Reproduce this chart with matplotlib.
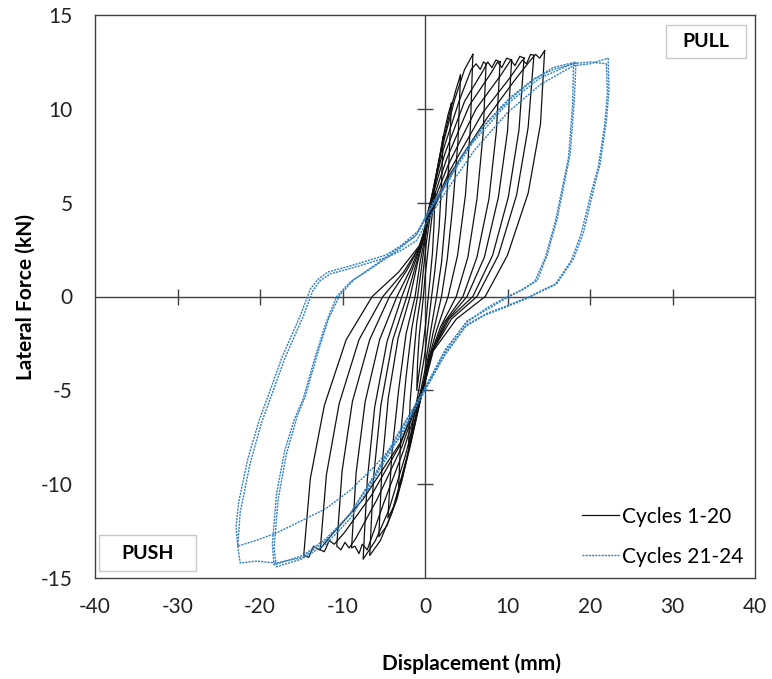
import matplotlib
matplotlib.use("Agg")
import matplotlib.pyplot as plt
from matplotlib.patches import Rectangle

plt.rcParams['font.family'] = ['Lato', 'DejaVu Sans']
plt.rcParams['axes.unicode_minus'] = False

# cycles 1-20 (black), traced loops: peak -> unload -> negative peak -> unload -> peak
black_x = [
    [1.2, 1.1, 0.9, 0.6, 0.4, 0.1, -0.3, -0.7, -1.0, -0.9, -0.7, -0.4, -0.2, 0.0, 0.4, 0.8, 1.2],
    [2.2, 2.0, 1.7, 1.2, 0.8, 0.4, 0.0, -0.6, -1.3, -2.0, -1.8, -1.4, -1.0, -0.5, -0.2, 0.2, 0.8, 1.5, 2.2],
    [3.2, 2.9, 2.5, 2.0, 1.4, 0.7, 0.2, 0.0, -1.1, -2.1, -2.8, -3.2, -2.9, -2.3, -1.6, -0.9, -0.4, 0.0, 0.3, 1.3, 2.2, 2.8, 3.2],
    [4.3, 4.0, 3.4, 2.7, 2.0, 1.0, 0.3, 0.0, -1.5, -2.8, -3.8, -4.5, -4.0, -3.2, -2.3, -1.2, -0.6, 0.0, 0.3, 1.7, 3.0, 3.8, 4.3],
    [5.8, 5.5, 4.9, 3.95, 2.8, 1.4, 0.4, 0.0, -1.8, -3.4, -4.6, -5.6, -5.2, -4.45, -3.25, -1.8, -0.9, -0.1, 0.3, 2.0, 3.6, 4.8, 5.8],
    [7.4, 7.05, 6.3, 5.2, 3.8, 1.9, 0.5, 0.0, -2.2, -4.0, -5.4, -6.7, -6.25, -5.35, -3.9, -2.2, -1.1, -0.2, 0.3, 2.2, 4.2,
     5.6, 6.2, 6.7, 7.1, 7.4],
    [9.1, 8.65, 7.75, 6.3, 4.6, 2.3, 0.6, 0.0, -2.4, -4.4, -6.0, -7.5, -7.0, -6.1, -4.6, -2.8, -1.4, -0.3, 0.3, 2.4, 4.8,
     7.0, 7.6, 8.1, 8.6, 9.1],
    [10.5, 10.0, 8.9, 7.2, 5.1, 2.6, 0.7, 0.0, -2.6, -5.0, -7.0, -7.6, -8.0, -8.5, -8.9, -8.35, -7.25, -5.5, -3.4, -1.7,
     -0.4, 0.3, 2.6, 5.4, 8.0, 8.8, 9.3, 9.9, 10.5],
    [12.0, 11.4, 10.1, 8.2, 5.8, 2.9, 0.8, 0.0, -2.8, -5.8, -8.4, -9.2, -9.7, -10.2, -10.7, -10.05, -8.8, -6.7, -4.3, -2.2,
     -0.5, 0.3, 2.8, 6.2, 9.2, 10.4, 10.9, 11.5, 12.0],
    [13.2, 12.5, 11.1, 8.9, 6.3, 3.2, 0.9, 0.0, -3.0, -6.5, -9.8, -11.0, -11.6, -12.2, -12.7, -11.95, -10.4, -8.0, -5.1,
     -2.6, -0.6, 0.3, 3.0, 7.0, 10.2, 11.8, 12.3, 12.8, 13.2],
    [14.5, 14.0, 12.5, 10.0, 7.3, 3.8, 1.0, 0.0, -3.0, -7.5, -11.5, -12.8, -13.5, -14.1, -14.7, -13.9, -12.2, -9.55, -6.4,
     -3.2, -0.7, 0.3, 3.0, 7.5, 11.0, 12.8, 13.4, 13.9, 14.5],
]
black_y = [
    [5.5, 3.9, 2.3, 0.9, 0.0, -1.4, -2.8, -4.0, -5.0, -3.5, -2.1, -0.9, 0.0, 1.0, 2.6, 4.1, 5.5],
    [8.5, 6.0, 3.6, 1.4, 0.0, -1.5, -3.0, -4.6, -6.3, -8.0, -5.6, -3.4, -1.4, 0.0, 1.4, 3.0, 4.8, 6.7, 8.5],
    [10.3, 7.2, 4.3, 1.8, 0.0, -1.8, -3.2, -3.9, -6.3, -8.4, -9.6, -10.2, -7.1, -4.3, -1.7, 0.0, 1.6, 3.0, 3.8, 6.3, 8.5, 9.7, 10.3],
    [11.8, 8.3, 5.0, 2.0, 0.0, -1.9, -3.4, -4.2, -7.3, -9.8, -11.2, -11.8, -8.3, -5.0, -2.0, 0.0, 1.8, 3.2, 4.1, 7.3, 9.8, 11.1, 11.8],
    [12.9, 9.0, 5.4, 2.2, 0.0, -1.8, -3.4, -4.4, -8.0, -10.8, -12.2, -12.8, -9.0, -5.4, -2.2, 0.0, 1.8, 3.2, 4.3, 7.8, 10.5, 12.1, 12.9],
    [12.4, 8.7, 5.2, 2.1, 0.0, -1.6, -3.3, -4.5, -8.6, -11.5, -13.0, -13.8, -9.7, -5.8, -2.3, 0.0, 1.7, 3.1, 4.4, 7.8, 10.5,
     12.1, 12.4, 12.1, 12.5, 12.4],
    [12.5, 8.8, 5.2, 2.1, 0.0, -1.4, -3.2, -4.6, -8.5, -11.4, -13.0, -14.0, -9.8, -5.9, -2.4, 0.0, 1.6, 3.0, 4.4, 7.6, 10.4,
     12.0, 12.5, 12.2, 12.6, 12.5],
    [12.6, 8.8, 5.3, 2.1, 0.0, -1.3, -3.1, -4.5, -8.2, -11.0, -13.5, -13.2, -13.7, -13.3, -13.4, -9.4, -5.6, -2.3, 0.0, 1.5,
     2.9, 4.3, 7.3, 10.2, 11.9, 12.5, 12.2, 12.7, 12.6],
    [12.7, 8.9, 5.3, 2.2, 0.0, -1.2, -3.0, -4.5, -8.0, -10.8, -12.9, -13.4, -13.1, -13.5, -13.3, -9.3, -5.6, -2.3, 0.0, 1.4,
     2.8, 4.2, 7.0, 10.0, 11.8, 12.6, 12.3, 12.8, 12.7],
    [12.85, 9.0, 5.4, 2.2, 0.0, -1.2, -2.9, -4.5, -7.9, -10.6, -12.6, -13.2, -13.0, -13.6, -13.5, -9.5, -5.7, -2.3, 0.0, 1.3,
     2.7, 4.1, 6.7, 9.8, 11.6, 12.6, 12.4, 12.9, 12.85],
    [13.1, 9.2, 5.5, 2.2, 0.0, -1.2, -2.9, -4.6, -7.8, -10.8, -12.8, -13.5, -13.3, -13.9, -13.8, -9.7, -5.8, -2.3, 0.0, 1.3,
     2.7, 4.0, 6.5, 9.5, 11.6, 12.6, 12.9, 12.7, 13.1],
]

# cycles 21-24 (blue dotted)
blue_x = [
    [18.3, 18.1, 17.6, 16.0, 14.8, 13.6, 11.8, 10.0, 7.5, 5.0, 2.5, 0.2, -3.0, -6.0, -9.1, -12.0, -14.8, -18.3,
     -18.5, -18.0, -17.0, -15.8, -14.8, -13.3, -12.0, -10.7, -9.0, -6.5, -3.5, -1.0, 0.6, 2.7, 4.2, 7.0, 10.0, 13.0, 15.5, 18.3],
    [18.0, 17.9, 17.4, 15.8, 14.6, 13.3, 11.5, 9.8, 7.5, 5.1, 2.3, 0.0, -3.0, -6.0, -9.0, -12.0, -15.0, -18.0,
     -18.3, -17.8, -16.8, -15.5, -14.5, -13.0, -11.7, -10.3, -8.6, -6.0, -3.2, -0.8, 0.8, 2.9, 4.6, 7.3, 10.3, 13.2, 15.6, 18.0],
    [22.2, 22.3, 22.0, 21.2, 20.6, 19.2, 18.0, 16.0, 14.5, 12.7, 9.9, 7.5, 5.1, 2.5, 0.2, -3.0, -6.0, -9.1, -12.0, -14.8, -18.0, -20.5, -22.4,
     -22.7, -22.4, -21.2, -19.8, -18.8, -17.0, -14.8, -13.6, -12.7, -11.5, -9.0, -6.7, -4.5, -2.7, -1.0, 0.5, 2.7, 6.0, 10.0, 14.0, 18.0, 20.0, 22.2],
    [22.0, 22.1, 21.8, 21.0, 20.3, 18.9, 17.7, 15.7, 14.2, 12.4, 9.6, 7.2, 4.9, 2.3, 0.0, -3.0, -6.0, -9.0, -12.0, -15.2, -18.0, -20.5, -22.7,
     -22.9, -22.6, -21.5, -20.1, -19.1, -17.3, -15.1, -13.9, -13.0, -11.8, -9.3, -7.0, -4.8, -2.9, -1.2, 0.3, 2.5, 5.8, 9.8, 13.8, 17.8, 20.0, 22.0],
]
blue_y = [
    [12.5, 10.5, 7.6, 4.1, 2.2, 0.85, 0.35, 0.0, -0.6, -1.4, -2.8, -4.7, -7.2, -9.5, -11.6, -12.9, -13.8, -14.3,
     -13.2, -10.5, -8.2, -6.5, -5.5, -3.2, -1.4, 0.0, 0.8, 1.5, 2.4, 3.3, 4.6, 6.0, 7.3, 9.0, 10.4, 11.5, 12.2, 12.5],
    [12.4, 10.3, 7.4, 4.0, 2.1, 0.8, 0.3, -0.1, -0.7, -1.3, -3.0, -4.9, -7.4, -9.6, -11.8, -13.2, -14.0, -14.4,
     -13.4, -10.8, -8.4, -6.4, -5.3, -3.0, -1.2, 0.1, 0.9, 1.7, 2.6, 3.5, 4.9, 6.3, 7.6, 9.2, 10.6, 11.6, 12.1, 12.4],
    [12.7, 11.0, 9.4, 7.0, 6.0, 3.4, 2.0, 0.7, 0.4, 0.0, -0.5, -0.9, -1.5, -3.0, -4.8, -7.1, -9.4, -11.6, -13.0, -13.9, -14.2, -14.1, -14.2,
     -13.3, -11.5, -8.9, -6.7, -5.5, -3.3, -1.1, 0.3, 0.85, 1.2, 1.5, 1.8, 2.1, 2.5, 3.0, 4.2, 5.7, 7.8, 9.8, 11.3, 12.3, 12.4, 12.7],
    [12.4, 10.8, 9.2, 6.9, 5.8, 3.3, 1.9, 0.6, 0.3, -0.1, -0.6, -1.0, -1.6, -3.2, -5.0, -7.5, -9.0, -10.3, -11.3, -12.0, -12.6, -13.0, -13.3,
     -12.3, -11.0, -8.7, -6.6, -5.4, -3.2, -1.0, 0.4, 0.9, 1.3, 1.6, 1.9, 2.2, 2.7, 3.2, 4.4, 6.0, 8.2, 10.2, 11.6, 12.4, 12.5, 12.4],
]

x_ticks = [-40, -30, -20, -10, 0, 10, 20, 30, 40]
y_ticks = [-15, -10, -5, 0, 5, 10, 15]
series_labels = ['Cycles 1-20', 'Cycles 21-24']

fig = plt.figure(figsize=(7.72, 6.79), dpi=100)
ax = fig.add_axes([95 / 772, 1 - 578 / 679, 660 / 772, 563 / 679])

black_handle = None
for xs, ys in zip(black_x, black_y):
    black_handle, = ax.plot(xs, ys, color='#111111', lw=0.9, zorder=3)
blue_handle = None
for xs, ys in zip(blue_x, blue_y):
    blue_handle, = ax.plot(xs, ys, color='#2f7fc0', lw=1.0, ls=(0, (1.5, 0.8)), zorder=4)

# axes crossing at the origin, with crossing tick marks
ax.axhline(0, color='#404040', lw=1.0, zorder=2)
ax.axvline(0, color='#404040', lw=1.0, zorder=2)
inner_x = [t for t in x_ticks if t not in (-40, 0, 40)]
inner_y = [t for t in y_ticks if t not in (-15, 0, 15)]
ax.plot(inner_x, [0] * len(inner_x), ls='none', marker='|', ms=12, mew=1.0, color='#404040', zorder=2)
ax.plot([0] * len(inner_y), inner_y, ls='none', marker='_', ms=12, mew=1.0, color='#404040', zorder=2)

ax.set_xlim(-40, 40)
ax.set_ylim(-15, 15)
ax.set_xticks(x_ticks)
ax.set_yticks(y_ticks)
ax.tick_params(length=0, labelsize=15, colors='#222222')
ax.tick_params(axis='x', pad=14)
ax.tick_params(axis='y', pad=16)
for s in ax.spines.values():
    s.set_color('#404040')
    s.set_linewidth(1.0)

ax.set_xlabel('Displacement (mm)', fontsize=15, fontweight='bold')
ax.xaxis.set_label_coords(0.571, -0.134)
ax.set_ylabel('Lateral Force (kN)', fontsize=15, fontweight='bold', labelpad=4)

ax.legend([black_handle, blue_handle], series_labels, loc='lower right', frameon=False,
          fontsize=15, handlelength=1.8, handletextpad=0.15, labelspacing=0.95,
          borderaxespad=0.15)

# PULL / PUSH label boxes
ax.add_patch(Rectangle((0.865, 0.924), 0.121, 0.058, transform=ax.transAxes,
                       facecolor='white', edgecolor='#c8c8c8', lw=1.0, zorder=6))
ax.text(0.9255, 0.953, 'PULL', transform=ax.transAxes, ha='center', va='center',
        fontsize=14, fontweight='bold', zorder=7)
ax.add_patch(Rectangle((0.006, 0.0124), 0.147, 0.064, transform=ax.transAxes,
                       facecolor='white', edgecolor='#c8c8c8', lw=1.0, zorder=6))
ax.text(0.0795, 0.044, 'PUSH', transform=ax.transAxes, ha='center', va='center',
        fontsize=14, fontweight='bold', zorder=7)

fig.savefig('out.png', dpi=100)
